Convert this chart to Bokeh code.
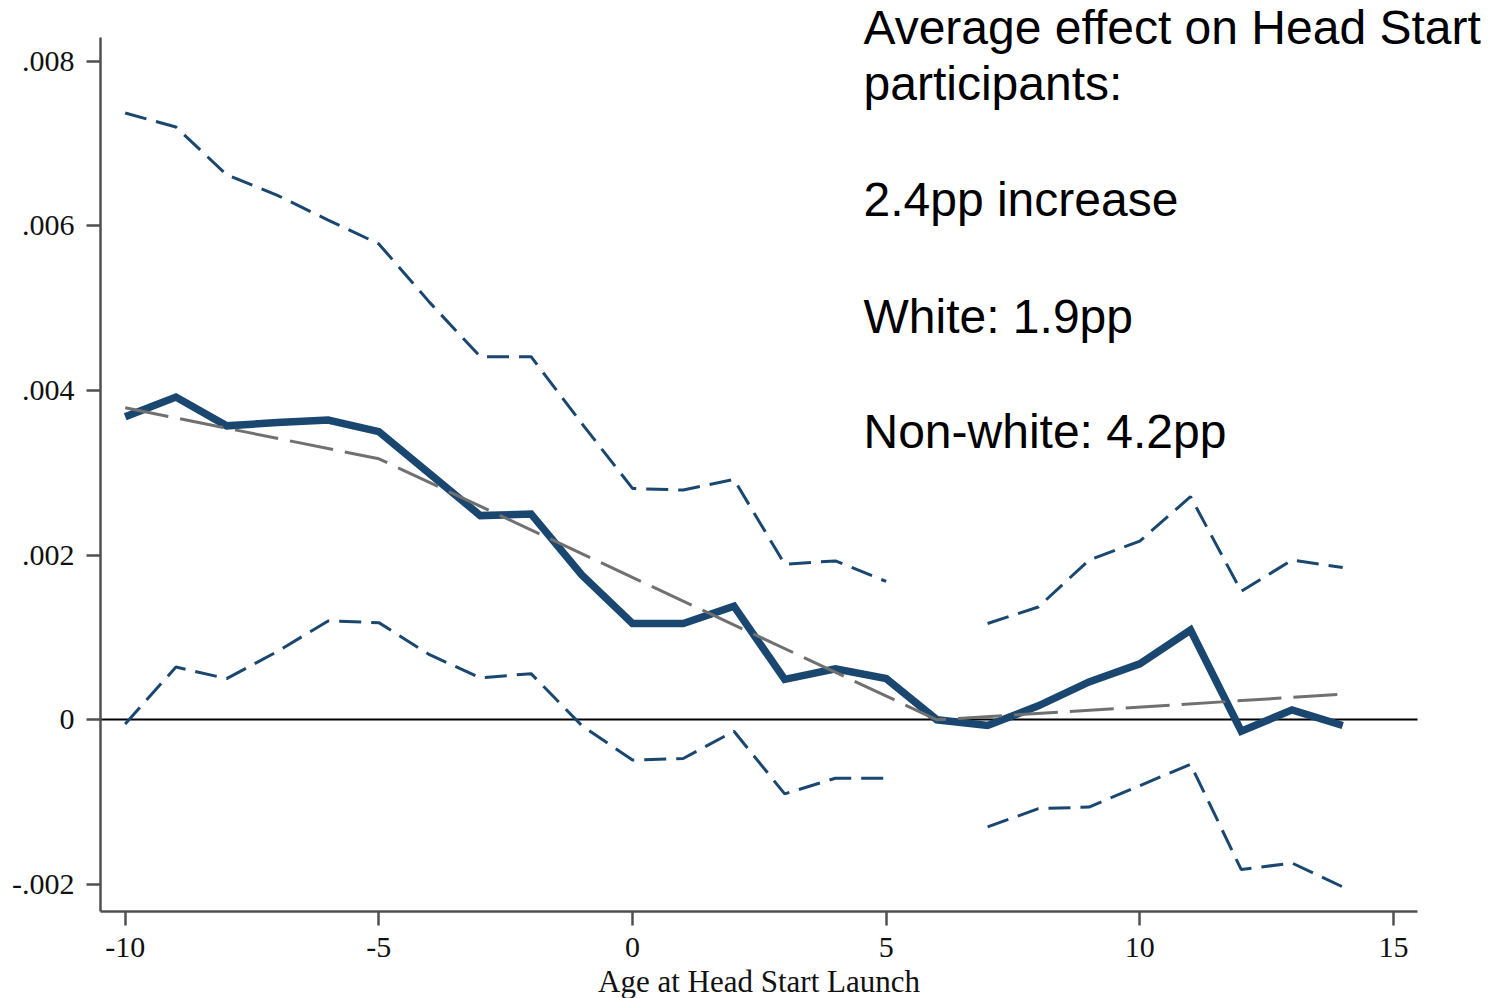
from bokeh.plotting import figure
from bokeh.models import Range1d, FixedTicker, Label, LinearAxis
from bokeh.embed import file_html
from bokeh.resources import INLINE

nan = float("nan")

# ---- data ----
age = list(range(-10, 15))
estimate = [0.00368, 0.00392, 0.00357, 0.00361, 0.00364, 0.00350, 0.00299, 0.00248,
            0.00250, 0.00176, 0.00117, 0.00117, 0.00138, 0.00049, 0.00062, 0.00050,
            0.00000, -0.00007, 0.00017, 0.00046, 0.00068, 0.00109, -0.00014, 0.00012,
            -0.00007]
ci_upper = [0.00737, 0.00720, 0.00662, 0.00637, 0.00607, 0.00578, 0.00507, 0.00441,
            0.00441, 0.00360, 0.00281, 0.00279, 0.00292, 0.00189, 0.00193, 0.00168,
            nan, 0.00117, 0.00137, 0.00194, 0.00217, 0.00271, 0.00156, 0.00194,
            0.00185]
ci_lower = [-0.00005, 0.00064, 0.00050, 0.00083, 0.00120, 0.00118, 0.00079, 0.00051,
            0.00056, -0.00007, -0.00049, -0.00047, -0.00014, -0.00090, -0.00071, -0.00071,
            nan, -0.00130, -0.00108, -0.00106, -0.00080, -0.00054, -0.00182, -0.00174,
            -0.00203]
trend_x = [-10, -5, 6, 14]
trend_y = [0.00379, 0.00317, 0.0, 0.00031]

x_ticks = [-10, -5, 0, 5, 10, 15]
y_ticks = [-0.002, 0.0, 0.002, 0.004, 0.006, 0.008]
y_tick_labels = ["-.002", "0", ".002", ".004", ".006", ".008"]
x_title = "Age at Head Start Launch"
note_lines = ["Average effect on Head Start", "participants:", "2.4pp increase",
              "White: 1.9pp", "Non-white: 4.2pp"]

# axis extents (data units) of the plot region
X_LO, X_HI = -10.487, 15.468
Y_LO, Y_HI = -0.002325, 0.008288

NAVY = "#1a476f"
SERIF = "Liberation Serif"
SANS = "Liberation Sans"

W, H = 1497, 998
p = figure(width=W, height=H, output_backend="svg", toolbar_location=None,
           x_range=Range1d(-12.458, 17.051), y_range=Range1d(-0.0033856, 0.0087368),
           min_border_left=0, min_border_right=0, min_border_top=0,
           min_border_bottom=0)
p.outline_line_color = None
p.grid.visible = False
p.background_fill_color = "white"
p.border_fill_color = "white"

# zero reference line: an unlabeled axis fixed at y = 0
zero_axis = LinearAxis(fixed_location=0.0, bounds=(X_LO, X_HI),
                       ticker=FixedTicker(ticks=[]),
                       axis_line_color="black", axis_line_width=2.2,
                       major_tick_out=0, major_tick_in=0,
                       minor_tick_out=0, minor_tick_in=0,
                       major_label_text_alpha=0.0, level="underlay")
p.add_layout(zero_axis, "below")

p.line(age, ci_upper, line_color=NAVY, line_width=3, line_dash="22 10")
p.line(age, ci_lower, line_color=NAVY, line_width=3, line_dash="22 10")
p.line(age, estimate, line_color=NAVY, line_width=7.5, line_join="miter")
p.line(trend_x, trend_y, line_color="#707070", line_width=3, line_dash="44 12")

main_x = p.xaxis[0]
main_y = p.yaxis[0]
for ax in (main_x, main_y):
    ax.axis_line_color = "#505050"
    ax.axis_line_width = 2.5
    ax.major_tick_line_color = "#505050"
    ax.major_tick_line_width = 2.5
    ax.major_tick_out = 14
    ax.major_tick_in = 0
    ax.minor_tick_out = 0
    ax.minor_tick_in = 0
    ax.major_label_text_font = SERIF
    ax.major_label_text_font_size = "30px"
    ax.major_label_text_color = "#111111"

main_x.fixed_location = Y_LO
main_x.bounds = (X_LO, X_HI)
main_y.fixed_location = X_LO
main_y.bounds = (Y_LO, Y_HI)

main_x.ticker = FixedTicker(ticks=x_ticks)
main_y.ticker = FixedTicker(ticks=y_ticks)
main_y.major_label_overrides = {t: s for t, s in zip(y_ticks, y_tick_labels)}
main_x.major_label_overrides = {t: str(t) for t in x_ticks}
main_x.major_label_standoff = 13
main_y.major_label_standoff = 12
main_x.axis_label = x_title
main_x.axis_label_text_font = SERIF
main_x.axis_label_text_font_size = "31px"
main_x.axis_label_text_font_style = "normal"
main_x.axis_label_text_color = "#111111"
main_x.axis_label_standoff = 3

# annotation text (screen units relative to the plot frame)
baselines = [44.3, 100, 216, 333, 448]
for txt, b in zip(note_lines, baselines):
    p.add_layout(Label(x=863, y=H - b + 17, x_units="screen", y_units="screen",
                       text=txt, text_font=SANS, text_font_size="48px",
                       text_color="black", text_baseline="alphabetic", text_align="left",
                       level="overlay"))

open("out.html", "w").write(file_html(p, INLINE))
